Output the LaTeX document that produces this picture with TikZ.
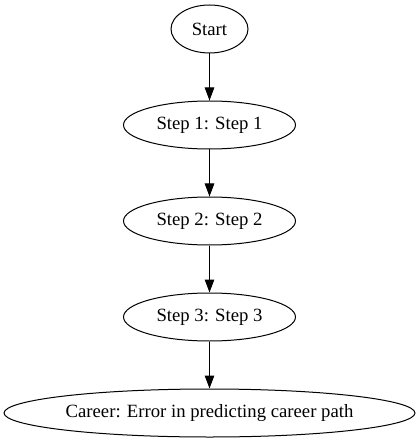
\documentclass[tikz,border=0pt]{standalone}
\usepackage{fontspec}
\setmainfont{Liberation Serif}
\usetikzlibrary{shapes.geometric,arrows.meta}

\tikzset{
	stepnode/.style = {ellipse, draw, line width=1pt, inner sep=0pt, minimum height=48pt, font=\fontsize{18.7}{22}\selectfont},
	flow/.style = {-{Triangle[length=13pt, width=9.5pt]}, line width=1pt}
}

\begin{document}
\begin{tikzpicture}
	\useasboundingbox (0,0) rectangle (419pt,-443pt);
	\node [stepnode, minimum width=77pt] (start) at (209.5pt,-29pt) {Start};
	\node [stepnode, minimum width=172pt] (step1) at (209.5pt,-125pt) {Step 1: Step 1};
	\node [stepnode, minimum width=172pt] (step2) at (209.5pt,-221pt) {Step 2: Step 2};
	\node [stepnode, minimum width=172pt] (step3) at (209.5pt,-317pt) {Step 3: Step 3};
	\node [stepnode, minimum width=411pt] (career) at (209.5pt,-413pt) {Career: Error in predicting career path};
	\draw [flow] (start) -- (step1);
	\draw [flow] (step1) -- (step2);
	\draw [flow] (step2) -- (step3);
	\draw [flow] (step3) -- (career);
\end{tikzpicture}
\end{document}
